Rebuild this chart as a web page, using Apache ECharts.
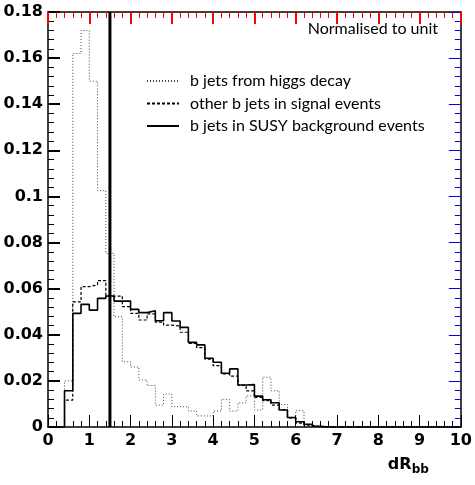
<!DOCTYPE html>
<html lang="en" style="height: 100%">
<head>
  <meta charset="utf-8">
</head>
<body style="height: 100%; margin: 0">
  <div id="container" style="width: 475px; height: 485px"></div>

  <script type="text/javascript" src="https://cdn.jsdelivr.net/npm/echarts@6/dist/echarts.min.js"></script>
  <script type="text/javascript">
    var binWidth = 0.2;
    var nBins = 50;
    var yMax = 0.18;
    var cutValue = 1.5;

    var seriesNames = [
      'b jets from higgs decay',
      'other b jets in signal events',
      'b jets in SUSY background events'
    ];

    var higgsJets = [
      0, 0, 0.020, 0.162, 0.172, 0.150, 0.1025, 0.0753, 0.0478, 0.0283,
      0.026, 0.0204, 0.018, 0.0095, 0.0143, 0.0088, 0.0088, 0.0069, 0.0048, 0.0048,
      0.0069, 0.012, 0.0069, 0.0105, 0.0135, 0.0074, 0.0216, 0.0157, 0.0098, 0.0039,
      0.0071, 0.001
    ];
    var otherSignalJets = [
      0, 0, 0.0117, 0.0543, 0.0609, 0.0616, 0.0635, 0.0568, 0.0568, 0.0522,
      0.0493, 0.0464, 0.0491, 0.0455, 0.0442, 0.0438, 0.0411, 0.0363, 0.0344, 0.0294,
      0.0266, 0.023, 0.0221, 0.0182, 0.0157, 0.0128, 0.0114, 0.0095, 0.0075, 0.004,
      0.0017, 0.0008
    ];
    var susyJets = [
      0, 0, 0.0157, 0.0493, 0.0532, 0.0507, 0.0558, 0.0568, 0.0546, 0.0546,
      0.051, 0.0496, 0.0504, 0.0461, 0.0496, 0.046, 0.0432, 0.0367, 0.0356, 0.0298,
      0.0281, 0.0233, 0.0252, 0.0182, 0.0184, 0.0134, 0.0118, 0.0105, 0.0074, 0.0041,
      0.0023, 0.0012, 0.0003
    ];

    function toSteps(values) {
      var pts = [];
      for (var i = 0; i < nBins; i++) {
        pts.push([+(i * binWidth).toFixed(2), values[i] || 0]);
      }
      pts.push([+(nBins * binWidth).toFixed(2), 0]);
      return pts;
    }

    var labelFont = { fontFamily: 'DejaVu Sans', fontWeight: 'bold', fontSize: 16, color: '#000' };

    // test: different tick colours on each side
    function frameAxis(extra, col, w) {
      var ax = {
        type: 'value',
        splitLine: { show: false },
        axisLine: { show: true, onZero: false, lineStyle: { color: '#000', width: 1.5 } },
        axisTick: { show: true, inside: true, length: 12, lineStyle: { color: col, width: w } },
        minorTick: { show: true, splitNumber: 5, length: 6, lineStyle: { color: col, width: 1 } },
        axisLabel: { show: false }
      };
      return Object.assign(ax, extra);
    }

    var myChart = echarts.init(document.getElementById('container'), null, { renderer: 'canvas' });

    myChart.setOption({
      backgroundColor: '#fff',
      animation: false,
      title: {
        text: 'Normalised to unit', right: 32, top: 16,
        textStyle: { fontFamily: 'Lato', fontWeight: 'normal', fontSize: 16, color: '#000' }
      },
      legend: {
        orient: 'vertical', left: 146, top: 73, padding: 0,
        itemWidth: 32, itemHeight: 14, itemGap: 6.5,
        itemStyle: { opacity: 0 }, data: seriesNames,
        textStyle: { fontFamily: 'Lato', fontSize: 16, color: '#000', padding: [0, 0, 0, 6] }
      },
      grid: { left: 48, right: 10, top: 12, bottom: 58 },
      xAxis: [
        frameAxis({
          min: 0, max: 10, interval: 1, position: 'bottom',
          axisLabel: Object.assign({ show: true, margin: 6 }, labelFont),
          name: '{m|dR}{s|bb}', nameLocation: 'end', nameGap: -73, nameMoveOverlap: false,
          nameTextStyle: {
            padding: [76, 0, 0, 0],
            rich: {
              m: { fontFamily: 'DejaVu Sans', fontWeight: 'bold', fontSize: 16, color: '#000' },
              s: { fontFamily: 'DejaVu Sans', fontWeight: 'bold', fontSize: 12, color: '#000', padding: [10, 0, 0, 0] }
            }
          }
        }, '#000', 1),
        frameAxis({ min: 0, max: 10, interval: 1, position: 'top' }, 'red', 2)
      ],
      yAxis: [
        frameAxis({ min: 0, max: yMax, interval: 0.02, position: 'left',
          axisLabel: Object.assign({ show: true, margin: 5 }, labelFont) }, '#000', 2),
        frameAxis({ min: 0, max: yMax, interval: 0.02, position: 'right' }, 'blue', 1)
      ],
      series: [
        { name: seriesNames[0], type: 'line', step: 'end', symbol: 'none',
          data: toSteps(higgsJets), lineStyle: { color: '#444', width: 1, type: [1, 2] } },
        { name: seriesNames[1], type: 'line', step: 'end', symbol: 'none',
          data: toSteps(otherSignalJets), lineStyle: { color: '#000', width: 1.2, type: [3, 2] } },
        { name: seriesNames[2], type: 'line', step: 'end', symbol: 'none',
          data: toSteps(susyJets), lineStyle: { color: '#000', width: 1.6 } },
        { name: 'cut', type: 'line', symbol: 'none', silent: true,
          data: [[cutValue, 0], [cutValue, yMax]], lineStyle: { color: '#000', width: 3 } }
      ]
    });
  </script>
</body>
</html>
